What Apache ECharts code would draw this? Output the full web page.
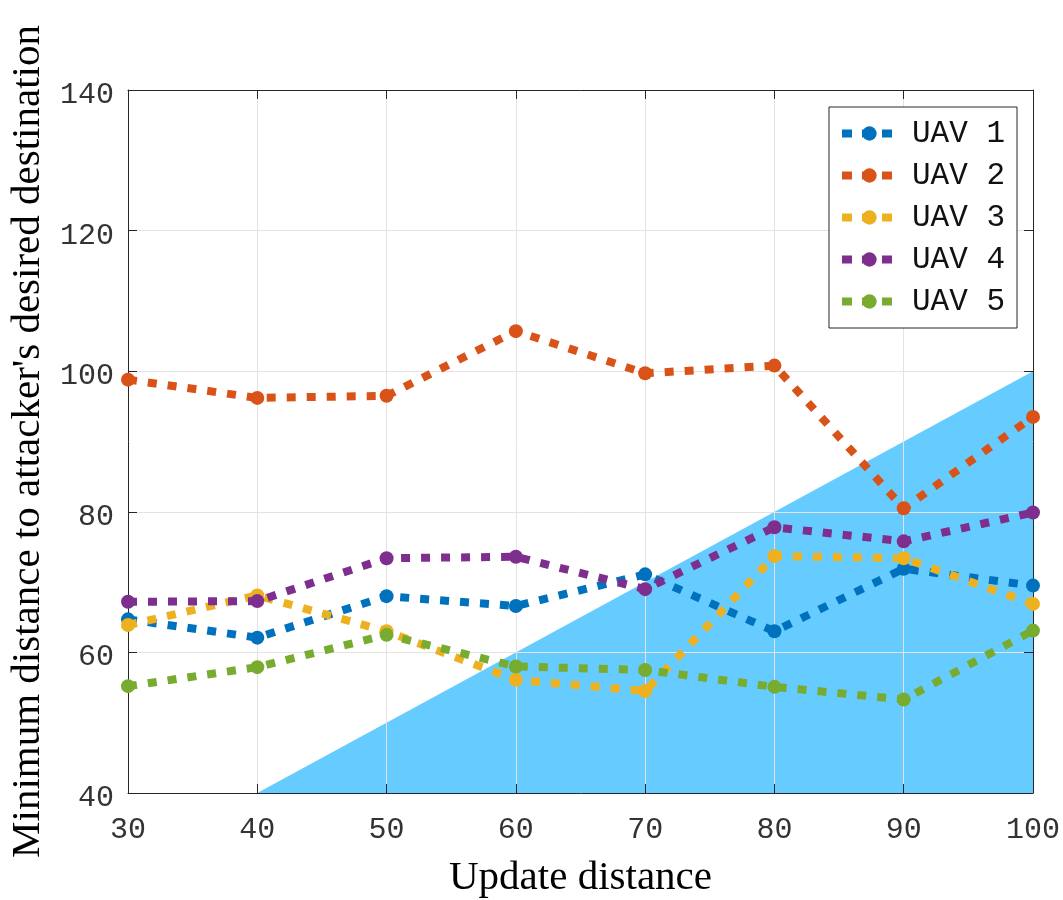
<!DOCTYPE html>
<html>
<head>
<meta charset="utf-8">
<title>UAV distance</title>
<script src="https://cdn.jsdelivr.net/npm/echarts@6/dist/echarts.min.js"></script>
<style>
	html, body {
		margin: 0;
		padding: 0;
		background: #fff;
	}
	#chart {
		width: 1063px;
		height: 900px;
	}
</style>
</head>
<body>
<div id="chart"></div>
<script>
	// 横轴：更新距离
	const updateDistance = [30, 40, 50, 60, 70, 80, 90, 100];
	const uavNames = ['UAV 1', 'UAV 2', 'UAV 3', 'UAV 4', 'UAV 5'];
	const uav1 = [64.7, 62.1, 68.0, 66.6, 71.1, 63.0, 71.9, 69.5];
	const uav2 = [98.8, 96.2, 96.5, 105.7, 99.7, 100.8, 80.5, 93.5];
	const uav3 = [63.9, 68.1, 63.0, 56.1, 54.5, 73.7, 73.4, 66.9];
	const uav4 = [67.2, 67.3, 73.4, 73.6, 69.0, 77.8, 75.8, 79.9];
	const uav5 = [55.2, 57.9, 62.5, 58.0, 57.5, 55.1, 53.3, 63.1];
	// 蓝色三角区域的两个顶点 (下沿到 y 轴最小值)
	const regionX = [40, 100];
	const regionY = [40, 100];
	const yTicks = [40, 60, 80, 100, 120, 140];

	const colors = ['#0072BD', '#D95319', '#EDB120', '#7E2F8E', '#77AC30'];
	const allValues = [uav1, uav2, uav3, uav4, uav5];

	const monoFont = '"Liberation Mono", "Courier New", monospace';
	const serifFont = '"Liberation Serif", "Times New Roman", serif';

	let chart = echarts.init(document.getElementById('chart'));

	let uavSeries = allValues.map((vals, i) => ({
		name: uavNames[i],
		type: 'line',
		data: updateDistance.map((x, k) => [x, vals[k]]),
		symbol: 'circle',
		symbolSize: 14,
		showSymbol: true,
		z: 3 + i,
		itemStyle: {
			color: colors[i],
		},
		lineStyle: {
			color: colors[i],
			width: 8,
			type: [9, 11],
			cap: 'butt',
		},
		emphasis: {
			disabled: true
		},
	}));

	let option = {
		animation: false,
		grid: {
			left: 128,
			right: 30,
			top: 90,
			bottom: 107,
			containLabel: false,
			outerBoundsMode: 'none',
		},
		legend: {
			data: uavNames,
			orient: 'vertical',
			right: 46,
			top: 107,
			align: 'left',
			padding: [11, 12, 11, 9],
			itemWidth: 55,
			itemHeight: 18,
			itemGap: 11,
			backgroundColor: '#fff',
			borderColor: '#262626',
			borderWidth: 1,
			borderRadius: 0,
			lineStyle: {
				width: 8,
				type: [10, 10],
				cap: 'butt',
			},
			textStyle: {
				fontFamily: monoFont,
				fontSize: 31,
				color: '#111',
				padding: [0, 0, 0, 10],
			},
		},
		xAxis: [{
			type: 'value',
			min: 30,
			max: 100,
			interval: 10,
			name: 'Update distance',
			nameLocation: 'middle',
			nameGap: 65,
			nameTextStyle: {
				fontFamily: serifFont,
				fontSize: 41,
				color: '#000',
			},
			axisLine: {
				show: true,
				lineStyle: {
					color: '#262626',
					width: 1,
				},
			},
			axisTick: {
				show: true,
				inside: true,
				length: 9,
				lineStyle: {
					color: '#262626',
				},
			},
			axisLabel: {
				fontFamily: monoFont,
				fontSize: 30,
				color: '#333',
				margin: 22,
			},
			splitLine: {
				show: true,
				lineStyle: {
					color: '#e3e3e3',
					width: 1,
				},
			},
		}, {
			// 上边框
			type: 'value',
			position: 'top',
			min: 30,
			max: 100,
			interval: 10,
			axisLine: {
				show: true,
				lineStyle: {
					color: '#262626',
				},
			},
			axisTick: {
				show: true,
				inside: true,
				length: 9,
				lineStyle: {
					color: '#262626',
				},
			},
			axisLabel: {
				show: false,
			},
			splitLine: {
				show: false,
			},
		}],
		yAxis: [{
			type: 'value',
			min: yTicks[0],
			max: yTicks[yTicks.length - 1],
			interval: 20,
			name: "Minimum distance to attacker's desired destination",
			nameLocation: 'middle',
			nameGap: 78,
			nameTextStyle: {
				fontFamily: serifFont,
				fontSize: 41,
				color: '#000',
			},
			axisLine: {
				show: true,
				lineStyle: {
					color: '#262626',
					width: 1,
				},
			},
			axisTick: {
				show: true,
				inside: true,
				length: 9,
				lineStyle: {
					color: '#262626',
				},
			},
			axisLabel: {
				fontFamily: monoFont,
				fontSize: 30,
				color: '#333',
				margin: 14,
				verticalAlign: 'top',
				lineHeight: 10,
			},
			splitLine: {
				show: true,
				lineStyle: {
					color: '#e3e3e3',
					width: 1,
				},
			},
		}, {
			// 右边框
			type: 'value',
			position: 'right',
			min: yTicks[0],
			max: yTicks[yTicks.length - 1],
			interval: 20,
			axisLine: {
				show: true,
				lineStyle: {
					color: '#262626',
				},
			},
			axisTick: {
				show: true,
				inside: true,
				length: 9,
				lineStyle: {
					color: '#262626',
				},
			},
			axisLabel: {
				show: false,
			},
			splitLine: {
				show: false,
			},
		}],
		series: [{
			name: 'region',
			type: 'line',
			data: regionX.map((x, k) => [x, regionY[k]]),
			symbol: 'none',
			z: -1,
			lineStyle: {
				width: 0,
			},
			areaStyle: {
				color: '#66CCFF',
				opacity: 1,
				origin: 'start',
			},
			silent: true,
		}].concat(uavSeries),
	};
	chart.setOption(option);
</script>
</body>
</html>
